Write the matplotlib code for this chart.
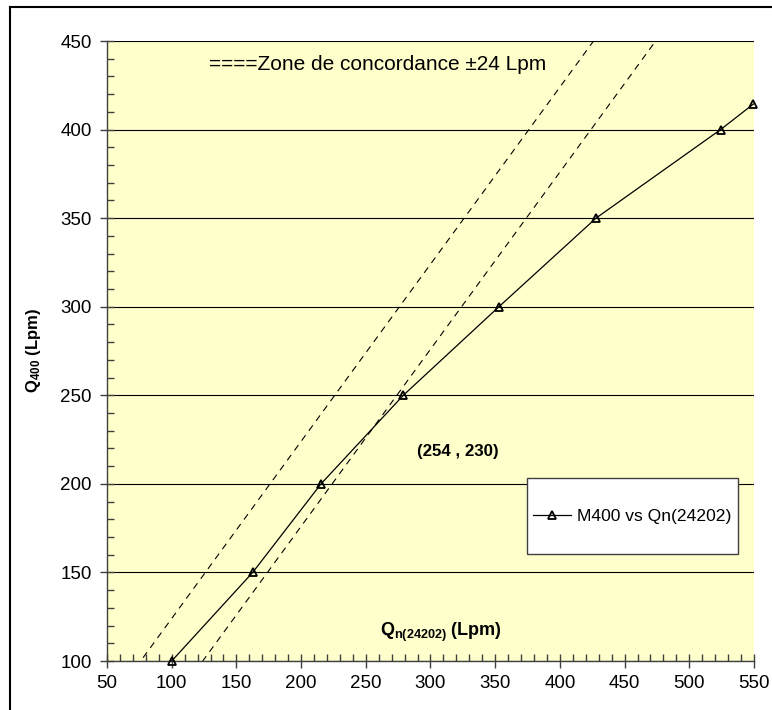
import matplotlib
matplotlib.use("Agg")
import matplotlib.pyplot as plt
from matplotlib.lines import Line2D
from matplotlib.patches import Rectangle
from matplotlib.ticker import MultipleLocator
import numpy as np

plt.rcParams['font.family'] = ['Liberation Sans', 'DejaVu Sans']
plt.rcParams['mathtext.fontset'] = 'custom'
plt.rcParams['mathtext.rm'] = 'Liberation Sans'
plt.rcParams['mathtext.bf'] = 'Liberation Sans:bold'
plt.rcParams['mathtext.it'] = 'Liberation Sans:italic'

# Data
qn = [100, 162.6, 215.4, 279, 352.9, 427.9, 524.2, 549.5]
q400 = [100, 150, 200, 250, 300, 350, 400, 414.4]
band = 24
x_limits = [50, 550]
y_limits = [100, 450]
series_label = "M400 vs Qn(24202)"
zone_text = "====Zone de concordance \u00b124 Lpm"
point_text = "(254 , 230)"

W, H = 772, 710
AX_L, AX_R, AX_T, AX_B = 107, 754, 41, 661
AW, AH = AX_R - AX_L, AX_B - AX_T

fig = plt.figure(figsize=(W/100, H/100), dpi=100)
ax = fig.add_axes([AX_L/W, (H-AX_B)/H, AW/W, AH/H])
ax.set_facecolor('#FFFFCC')

def axc(px, py):
    return ((px - AX_L)/AW, (AX_B - py)/AH)

ax.set_xlim(*x_limits)
ax.set_ylim(*y_limits)

ax.yaxis.set_major_locator(MultipleLocator(50))
ax.yaxis.set_minor_locator(MultipleLocator(10))
ax.xaxis.set_major_locator(MultipleLocator(50))
ax.xaxis.set_minor_locator(MultipleLocator(10))
ax.grid(axis='y', which='major', color='black', lw=0.8)
ax.set_axisbelow(True)

# concordance lines
xx = np.array(x_limits, dtype=float)
ax.plot(xx, xx + band, color='black', lw=0.8, ls=(0, (6, 5)))
ax.plot(xx, xx - band, color='black', lw=0.8, ls=(0, (6, 5)))

line, = ax.plot(qn, q400, color='black', lw=0.9, marker='^', ms=5.5, mfc='none',
                mec='black', mew=1.3, label=series_label, clip_on=False, zorder=5)

for s in ['top', 'right']:
    ax.spines[s].set_visible(False)
for s in ['left', 'bottom']:
    ax.spines[s].set_color('#404040')
    ax.spines[s].set_linewidth(1.0)

ax.tick_params(axis='both', which='major', direction='inout', length=10,
               width=1.0, color='#404040', labelsize=13.5)
ax.tick_params(axis='y', which='major', pad=6)
ax.tick_params(axis='x', which='major', pad=5)
ax.tick_params(axis='both', which='minor', direction='in', length=5,
               width=1.0, color='#404040')

ax.set_ylabel(r'$\mathbf{Q}_{\mathbf{400}}$ (Lpm)', fontsize=12, fontweight='bold')
ax.yaxis.set_label_coords((43 - AX_L)/AW, 0.5)

ax.text(*axc(378, 64), zone_text, transform=ax.transAxes, fontsize=15,
        ha='center', va='center')
ax.text(321, 218, point_text, fontsize=12.2, fontweight='bold',
        ha='center', va='center')
ax.text(308, 116.4, r'$\mathbf{Q}_{\mathbf{n(24202)}}$ (Lpm)', fontsize=13,
        fontweight='bold', ha='center', va='center')

# legend box
x0, y0 = axc(527, 554)
x1, y1 = axc(737.5, 478)
ax.add_patch(Rectangle((x0, y0), x1 - x0, y1 - y0, transform=ax.transAxes,
                       facecolor='white', edgecolor='#404040', lw=1.0,
                       zorder=6, clip_on=False))
leg = ax.legend(handles=[line], loc='center left', bbox_to_anchor=axc(533, 516),
                frameon=False, fontsize=12.6, handlelength=2.15,
                borderpad=0, handletextpad=0.35, borderaxespad=0)
leg.set_zorder(7)

# figure frame (top and left)
fig.add_artist(Line2D([10/W, 1], [1 - 7/H, 1 - 7/H], transform=fig.transFigure,
                      color='black', lw=1.5))
fig.add_artist(Line2D([10/W, 10/W], [0, 1 - 7/H], transform=fig.transFigure,
                      color='black', lw=1.5))

fig.savefig('out.png', dpi=100)
